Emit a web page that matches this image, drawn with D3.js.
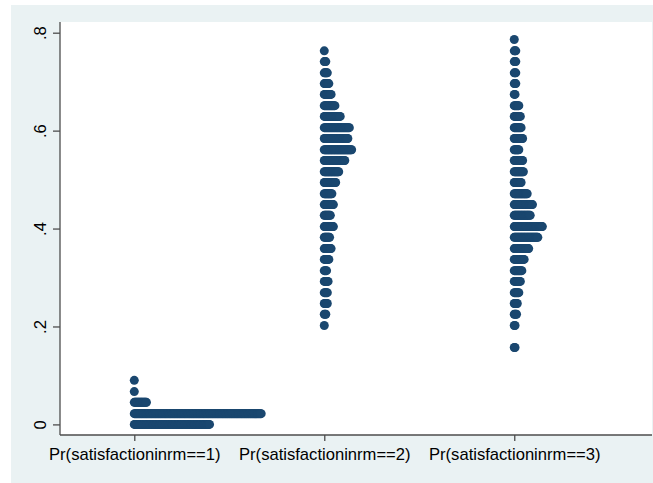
<!DOCTYPE html>
<html>
<head>
<meta charset="utf-8">
<script src="https://cdn.jsdelivr.net/npm/d3@7"></script>
<style>
  body { margin: 0; background: #fff; }
  text { font-family: "Liberation Sans", Arial, sans-serif; }
</style>
</head>
<body>
<div id="chart"></div>
<script>
// categories on the x axis
const categories = ["Pr(satisfactioninrm==1)", "Pr(satisfactioninrm==2)", "Pr(satisfactioninrm==3)"];

// bin midpoints (predicted probability) of the dotplot rows
const bins = [0, .022, .045, .067, .090, .112, .135, .157, .180, .202,
              .225, .247, .269, .292, .314, .337, .359, .382, .404, .427,
              .449, .471, .494, .516, .539, .561, .584, .606, .629, .651,
              .674, .696, .718, .741, .763, .786];

const counts1 = [100, 168, 17, 1, 1, 0, 0, 0, 0, 0,
                 0, 0, 0, 0, 0, 0, 0, 0, 0, 0,
                 0, 0, 0, 0, 0, 0, 0, 0, 0, 0,
                 0, 0, 0, 0, 0, 0];
const counts2 = [0, 0, 0, 0, 0, 0, 0, 0, 0, 1,
                 3, 5, 5, 6, 4, 7, 10, 8, 13, 9,
                 13, 11, 16, 20, 28, 37, 32, 34, 22, 15,
                 10, 7, 5, 3, 1, 0];
const counts3 = [0, 0, 0, 0, 0, 0, 0, 2, 0, 2,
                 4, 5, 7, 9, 11, 14, 20, 32, 38, 22,
                 25, 18, 10, 13, 12, 7, 12, 10, 9, 7,
                 2, 3, 3, 3, 3, 1];
const allCounts = [counts1, counts2, counts3];

const yTicks = [0, .2, .4, .6, .8];
const yTickLabels = ["0", ".2", ".4", ".6", ".8"];

const width = 653, height = 483;
const plot = { left: 60, right: 652, top: 22, bottom: 435 };
const dotStep = 0.004;   // horizontal spacing between stacked dots, in x units
const dotR = 4.5;
const navy = "#1a476f";
const axisColor = "#4d4d4d";

const svg = d3.select("#chart").append("svg")
    .attr("width", width)
    .attr("height", height);

// graph region (light bluish) and plot region (white)
svg.append("rect")
    .attr("x", 11).attr("y", 5)
    .attr("width", width - 11).attr("height", height - 5)
    .attr("fill", "#eaf2f3");
svg.append("rect")
    .attr("x", plot.left).attr("y", plot.top)
    .attr("width", plot.right - plot.left).attr("height", plot.bottom - plot.top)
    .attr("fill", "#fff");

const x = d3.scaleLinear()
    .domain([0.609, 3.725])
    .range([plot.left, plot.right]);

const y = d3.scaleLinear()
    .domain([0, 0.8])
    .range([424.4, 32.7]);

// dots
const dots = [];
allCounts.forEach((counts, c) => {
    counts.forEach((n, b) => {
        for (let i = 0; i < n; i++) {
            dots.push({ cat: c + 1, v: bins[b], i: i });
        }
    });
});

svg.append("g")
    .selectAll("circle")
    .data(dots)
    .enter().append("circle")
    .attr("cx", d => x(d.cat + d.i * dotStep))
    .attr("cy", d => y(d.v))
    .attr("r", dotR)
    .attr("fill", navy);

// y axis
const yAxis = d3.axisLeft(y)
    .tickValues(yTicks)
    .tickFormat((d, i) => yTickLabels[i])
    .tickSize(7)
    .tickPadding(0);

const gy = svg.append("g")
    .attr("transform", `translate(${plot.left},0)`)
    .call(yAxis);
gy.select(".domain")
    .attr("d", `M0,${plot.top}V${plot.bottom}`)
    .attr("stroke", axisColor).attr("stroke-width", 1.3);
gy.selectAll(".tick line").attr("stroke", axisColor).attr("stroke-width", 1.3);
gy.selectAll(".tick text")
    .attr("x", 0).attr("y", 0).attr("dy", 0)
    .attr("transform", "translate(-14,0) rotate(-90)")
    .attr("text-anchor", "middle")
    .attr("fill", "#000")
    .style("font-size", "16.6px");

// x axis
const xAxis = d3.axisBottom(x)
    .tickValues([1, 2, 3])
    .tickFormat((d, i) => categories[i])
    .tickSize(6)
    .tickPadding(0);

const gx = svg.append("g")
    .attr("transform", `translate(0,${plot.bottom})`)
    .call(xAxis);
gx.select(".domain")
    .attr("d", `M${plot.left},0H${plot.right}`)
    .attr("stroke", axisColor).attr("stroke-width", 1.3);
gx.selectAll(".tick line").attr("stroke", axisColor).attr("stroke-width", 1.3);
gx.selectAll(".tick text")
    .attr("y", 24.5).attr("dy", 0)
    .attr("fill", "#000")
    .style("font-size", "16.6px");
</script>
</body>
</html>
